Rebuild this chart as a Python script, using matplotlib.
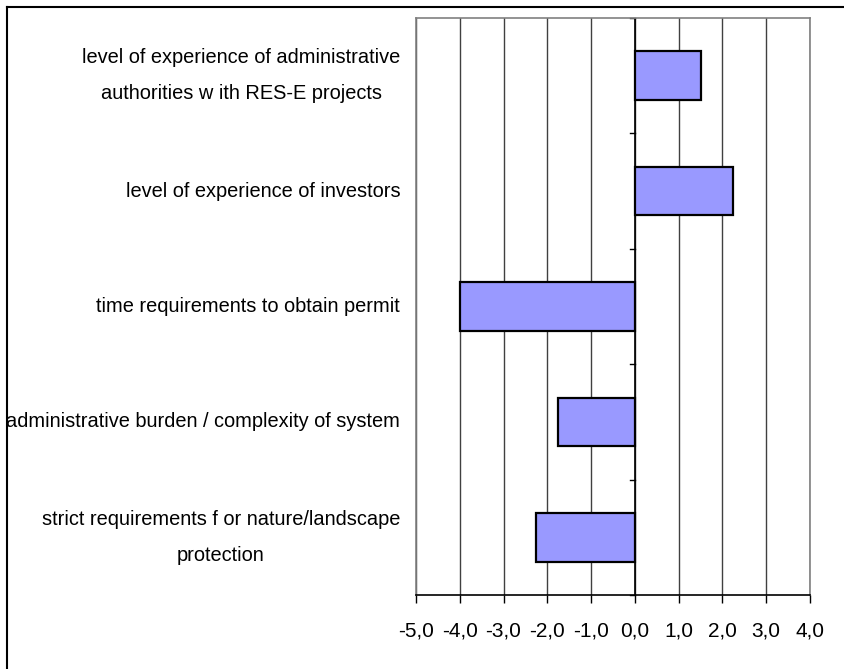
import matplotlib.pyplot as plt
from matplotlib.lines import Line2D

labels = ['level of experience of administrative\nauthorities w ith RES-E projects',
          'level of experience of investors',
          'time requirements to obtain permit',
          'administrative burden / complexity of system',
          'strict requirements f or nature/landscape\nprotection']
values = [1.5, 2.25, -4.0, -1.75, -2.25]
xticks = [-5, -4, -3, -2, -1, 0, 1, 2, 3, 4]

plt.rcParams['font.family'] = ['Liberation Sans', 'DejaVu Sans']

W, H = 844, 669
fig = plt.figure(figsize=(W / 100, H / 100), dpi=100)
ax = fig.add_axes([416 / W, 1 - 595 / H, (810 - 416) / W, (595 - 18) / H])

ypos = list(range(len(values)))[::-1]
ax.barh(ypos, values, height=0.42, color='#9999ff', edgecolor='black', linewidth=1.6, zorder=3)

ax.set_xlim(-5, 4)
ax.set_ylim(-0.5, len(values) - 0.5)
ax.set_xticks(xticks)
ax.set_xticklabels([f'{v:.1f}'.replace('.', ',') for v in xticks], fontsize=15)
ax.tick_params(axis='x', length=6, width=1, pad=13, direction='out')
ax.grid(axis='x', color='#404040', linewidth=1, zorder=0)

ax.set_yticks([])
# category labels at the left
for y, lab in zip(ypos, labels):
    ax.text(-0.04, y, lab, transform=ax.get_yaxis_transform(), ha='right', va='center',
            multialignment='center', fontsize=14.4, linespacing=2.1)

# y axis drawn at zero with tick marks between categories
ax.axvline(0, color='black', linewidth=1.2, zorder=2)
for b in range(len(values) + 1):
    yb = b - 0.5
    ax.plot([-0.12, 0], [yb, yb], color='black', linewidth=1, zorder=2, clip_on=False)

for s in ['left', 'right', 'top']:
    ax.spines[s].set_color('#808080')
    ax.spines[s].set_linewidth(1.2)
ax.spines['bottom'].set_color('black')
ax.spines['bottom'].set_linewidth(1.2)

# outer frame (top and left edges visible)
fig.add_artist(Line2D([7 / W, 1], [1 - 7 / H, 1 - 7 / H], color='black', linewidth=1.5))
fig.add_artist(Line2D([7 / W, 7 / W], [0, 1 - 7 / H], color='black', linewidth=1.5))

fig.savefig('out.png', dpi=100)
